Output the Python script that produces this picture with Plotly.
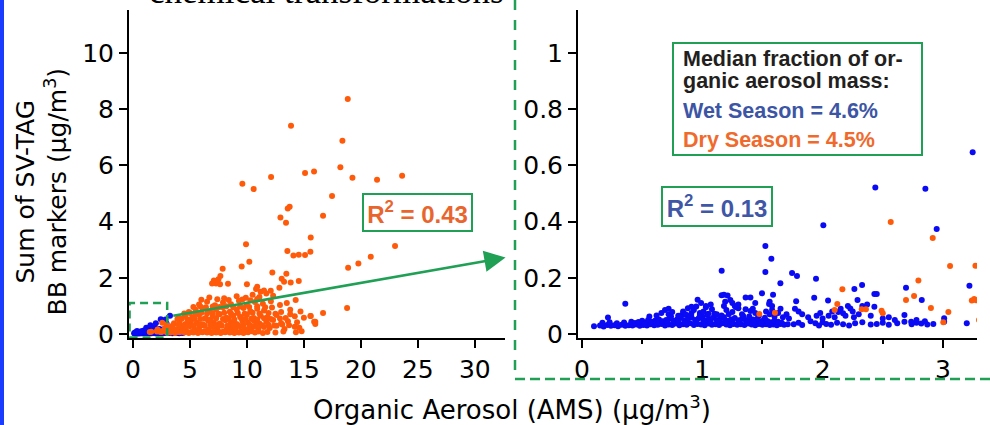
import plotly.graph_objects as go

# ---------------- data (OA in ug/m3, SV-TAG BB markers in ug/m3) ----------------
# Wet season (blue) points
wet_band_low = [(0.10,0.028),(0.15,0.030),(0.18,0.027),(0.21,0.032),(0.24,0.029),(0.27,0.031),(0.30,0.028),(0.33,0.033),
    (0.36,0.029),(0.39,0.031),(0.42,0.030),(0.45,0.034),(0.48,0.029),(0.51,0.032),(0.54,0.030),(0.57,0.035),(0.60,0.031),
    (0.63,0.033),(0.66,0.036),(0.69,0.030),(0.72,0.034),(0.75,0.032),(0.78,0.037),(0.81,0.031),(0.84,0.035),(0.87,0.033),
    (0.90,0.038),(0.93,0.032),(0.96,0.036),(0.99,0.034),(1.02,0.031),(1.05,0.037),(1.08,0.033),(1.11,0.035),(1.14,0.032),
    (1.17,0.038),(1.20,0.034),(1.23,0.031),(1.26,0.036),(1.29,0.033),(1.32,0.035),(1.35,0.032),(1.38,0.037),(1.41,0.034),
    (1.44,0.031),(1.47,0.036),(1.50,0.033),(1.53,0.035),(1.56,0.032),(1.59,0.034),(1.62,0.031),(1.65,0.036),(1.68,0.033),(1.71,0.035)]
wet_band_mid = [(0.17,0.040),(0.23,0.042),(0.29,0.038),(0.35,0.041),(0.41,0.044),(0.44,0.039),(0.47,0.043),(0.50,0.047),
    (0.53,0.041),(0.55,0.050),(0.58,0.044),(0.61,0.048),(0.64,0.052),(0.67,0.045),(0.70,0.050),(0.73,0.055),(0.76,0.047),
    (0.79,0.052),(0.82,0.058),(0.85,0.049),(0.88,0.054),(0.91,0.060),(0.94,0.050),(0.97,0.056),(1.00,0.062),(1.03,0.048),
    (1.06,0.053),(1.09,0.058),(1.12,0.050),(1.15,0.055),(1.18,0.060),(1.21,0.047),(1.24,0.052),(1.27,0.057),(1.30,0.049),
    (1.33,0.054),(1.36,0.050),(1.39,0.046),(1.42,0.052),(1.45,0.048),(1.48,0.044),(1.51,0.050),(1.54,0.046),(1.57,0.042),
    (1.60,0.048),(1.63,0.044),(1.66,0.040)]
wet_band_fill = [(0.52,0.036),(0.62,0.040),(0.71,0.042),(0.80,0.044),(0.86,0.041),(0.95,0.044),(1.01,0.046),(1.07,0.042),
    (1.13,0.045),(1.19,0.043),(1.25,0.042),(1.31,0.044),(1.37,0.041),(1.43,0.042),(1.49,0.040),(1.55,0.041),
    (0.74,0.062),(0.83,0.068),(0.90,0.066),(0.98,0.075),(1.04,0.068),(1.10,0.072),(1.16,0.066),(1.22,0.070),
    (1.34,0.064),(1.39,0.062),(1.46,0.056),(1.52,0.058)]
wet_band_high = [(0.56,0.062),(0.62,0.066),(0.66,0.075),(0.69,0.085),(0.72,0.070),(0.75,0.078),(0.80,0.065),(0.84,0.080),
    (0.86,0.070),(0.88,0.092),(0.91,0.075),(0.93,0.085),(0.95,0.098),(0.98,0.068),(1.01,0.080),(1.03,0.095),(1.05,0.072),
    (1.08,0.088),(1.12,0.070),(1.18,0.100),(1.20,0.085),(1.25,0.078),(1.28,0.095),(1.30,0.092),(1.33,0.070),(1.36,0.088),
    (1.40,0.082),(1.42,0.090),(1.44,0.075),(1.47,0.065),(1.53,0.080),(1.56,0.070),(1.60,0.062)]
wet_scatter_low_oa = [(0.36,0.108),(0.216,0.059),(0.961,0.122),(1.161,0.225),(1.16,0.138),(1.18,0.140),(1.21,0.137),
    (1.233,0.121),(1.19,0.115),(1.36,0.130),(1.40,0.130),(1.44,0.110),(1.496,0.145),(1.524,0.313),(1.574,0.268),
    (1.524,0.221),(1.588,0.140),(1.56,0.115),(1.555,0.107),(1.649,0.181),(1.746,0.217),(1.787,0.206),(1.30,0.105),
    (1.25,0.110),(1.27,0.100),(1.65,0.090),(1.70,0.070),(1.72,0.055),(1.67,0.060),(1.63,0.075),(1.58,0.085),(1.58,0.100),
    (0.91,0.097),(0.99,0.110),(1.03,0.100),(1.07,0.105),(0.72,0.090)]
wet_high_oa_low = [(1.76,0.035),(1.80,0.040),(1.83,0.032),(1.90,0.045),(1.94,0.038),(1.97,0.030),(2.00,0.042),(2.03,0.036),
    (2.07,0.033),(2.12,0.040),(2.17,0.035),(2.22,0.030),(2.27,0.038),(2.33,0.042),(2.40,0.034),(2.45,0.036),(2.50,0.040),
    (2.55,0.033),(2.62,0.038),(2.68,0.044),(2.74,0.035),(2.78,0.040),(2.82,0.037),(2.87,0.034),(2.92,0.036),(3.198,0.038)]
wet_high_oa_mid = [(1.77,0.090),(1.80,0.080),(1.78,0.117),(1.83,0.070),(1.88,0.060),(1.93,0.129),(1.95,0.065),(1.98,0.075),
    (2.00,0.055),(2.045,0.119),(2.05,0.065),(2.08,0.080),(2.10,0.060),(2.13,0.078),(2.15,0.090),(2.17,0.074),(2.19,0.065),
    (2.21,0.100),(2.23,0.091),(2.25,0.080),(2.26,0.060),(2.29,0.121),(2.30,0.070),(2.33,0.100),(2.35,0.095),(2.37,0.105),
    (2.40,0.065),(2.43,0.097),(2.50,0.055),(2.55,0.060),(2.60,0.050),(2.68,0.068),(2.736,0.044),(2.78,0.050),(2.85,0.045),
    (3.01,0.056),(3.01,0.044)]
wet_high_oa_top = [(1.945,0.197),(2.006,0.387),(2.264,0.160),(2.328,0.174),(2.43,0.142),(2.45,0.142),(2.438,0.521),
    (2.693,0.165),(2.824,0.121),(2.854,0.517),(2.948,0.374),(3.22,0.172),(3.247,0.647)]
wet_beyond_zoom = [(3.35,0.05),(3.45,0.03),(3.55,0.06),(3.65,0.04),(3.75,0.07),(3.85,0.04),(3.95,0.05),(4.05,0.03),
    (4.20,0.05),(4.36,0.04),(3.40,0.10),(3.60,0.12),(3.90,0.10),(4.10,0.12)]

# Dry season (orange) points
dry_low_oa = [(1.474,0.071),(1.604,0.076),(2.10,0.085),(2.122,0.107),(2.164,0.159),(2.325,0.088),(2.36,0.088),(2.49,0.083),
    (2.50,0.074),(2.566,0.399),(2.693,0.121),(2.76,0.135),(2.796,0.190),(2.90,0.093),(2.915,0.342),(3.003,0.042),
    (3.045,0.078),(3.059,0.242),(3.24,0.119),(3.26,0.125),(3.275,0.120),(3.27,0.243)]
dry_cloud_1 = [(3.3,0.05),(3.5,0.09),(3.7,0.04),(3.9,0.08),(4.1,0.06),(4.3,0.10),(4.5,0.05),(4.7,0.09),(4.9,0.04),(5.1,0.07),
    (5.3,0.05),(5.5,0.09),(5.7,0.04),(5.9,0.08),(6.1,0.06),(6.3,0.10),(6.5,0.05),(6.7,0.09),(6.9,0.04),(7.1,0.07),
    (7.3,0.05),(7.5,0.09),(7.7,0.04),(7.9,0.08),(8.1,0.06),(8.3,0.10),(8.5,0.05),(8.7,0.09),(8.9,0.04),(9.1,0.07),
    (9.3,0.05),(9.5,0.09),(9.7,0.04),(9.9,0.08),(10.1,0.06),(10.4,0.10),(10.7,0.05),(11.0,0.09),(11.4,0.04),(11.8,0.07),
    (12.5,0.05),(13.2,0.09),(14.3,0.06),(14.8,0.10)]
dry_cloud_2 = [(3.4,0.20),(3.8,0.16),(4.2,0.26),(4.6,0.18),(5.0,0.28),(5.4,0.15),(5.8,0.22),(6.2,0.30),(6.6,0.17),(7.0,0.25),
    (7.4,0.19),(7.8,0.29),(8.2,0.16),(8.6,0.24),(9.0,0.20),(9.4,0.28),(9.8,0.17),(10.2,0.23),(10.6,0.27),(11.0,0.18),
    (11.5,0.25),(12.0,0.21),(12.6,0.29),(13.3,0.18),(14.2,0.26),(14.6,0.22)]
dry_cloud_3 = [(3.6,0.38),(4.1,0.46),(4.6,0.36),(5.1,0.48),(5.6,0.40),(6.1,0.35),(6.6,0.47),(7.1,0.41),(7.6,0.37),(8.1,0.49),
    (8.6,0.42),(9.1,0.36),(9.6,0.46),(10.1,0.40),(10.6,0.48),(11.1,0.37),(11.7,0.44),(12.3,0.50),(13.0,0.38),(13.6,0.45),
    (14.4,0.42),(15.9,0.44),(16.0,0.36)]
dry_cloud_4 = [(4.0,0.58),(4.6,0.66),(5.2,0.60),(5.8,0.69),(6.4,0.56),(7.0,0.64),(7.6,0.70),(8.2,0.58),(8.8,0.66),(9.4,0.61),
    (10.0,0.69),(10.6,0.57),(11.2,0.65),(11.8,0.60),(12.6,0.68),(13.4,0.57),(14.2,0.63),(15.0,0.58),(15.6,0.64),(13.8,0.70)]
dry_cloud_5 = [(4.9,0.78),(5.5,0.86),(6.1,0.92),(6.7,0.80),(7.3,0.88),(7.9,0.95),(8.5,0.79),(9.1,0.87),(9.7,0.93),(10.3,0.81),
    (10.9,0.90),(11.5,0.84),(12.2,0.94),(13.0,0.78),(13.8,0.86),(14.7,0.80)]
dry_cloud_6 = [(5.8,1.05),(6.5,1.15),(7.2,1.02),(7.9,1.12),(8.6,1.06),(9.3,1.18),(10.0,1.04),(10.7,1.14),(11.4,1.08),
    (12.1,1.17),(12.9,1.03),(13.5,1.10)]
dry_cloud_7 = [(6.7,1.30),(8.0,1.27),(9.1,1.34),(9.9,1.29),(10.5,1.40),(11.1,1.32),(11.7,1.44),(12.3,1.36)]
dry_cloud_fill = [(3.5,0.31),(4.0,0.33),(4.4,0.30),(4.9,0.34),(5.3,0.31),(5.8,0.33),(6.3,0.30),(6.8,0.34),(7.2,0.31),
    (7.7,0.33),(8.3,0.30),(8.8,0.34),(9.2,0.31),(9.7,0.33),(10.3,0.30),(10.8,0.34),(11.3,0.31),(11.9,0.33),(12.4,0.30),
    (13.1,0.34),(13.7,0.31),
    (3.9,0.53),(4.3,0.55),(4.8,0.52),(5.4,0.56),(5.9,0.53),(6.3,0.55),(6.8,0.52),(7.3,0.56),(7.9,0.53),(8.4,0.55),
    (8.9,0.52),(9.5,0.56),(9.9,0.53),(10.4,0.55),(10.9,0.52),(11.5,0.56),(12.1,0.53),(12.9,0.55),
    (4.5,0.73),(5.0,0.75),(5.5,0.72),(6.0,0.76),(6.5,0.73),(7.0,0.75),(7.5,0.72),(8.0,0.76),(8.6,0.73),(9.2,0.75),
    (9.8,0.72),(10.5,0.76),(11.1,0.73),(11.9,0.75),(12.5,0.72),
    (5.3,0.96),(5.9,0.99),(6.4,0.95),(7.0,0.98),(7.6,0.96),(8.2,0.99),(8.8,0.95),(9.4,0.98),(10.2,0.96),(10.9,0.99),(11.6,0.95),
    (6.0,1.22),(7.4,1.24),(8.4,1.21),(9.6,1.23),(10.3,1.20),(10.9,1.25),
    (7.1,1.90),(7.5,1.95),(10.9,1.68),(11.2,1.50)]
dry_sparse = [(12.09,1.54),(11.5,1.55),(10.8,1.60),(12.85,1.65),(10.0,1.77),(6.94,1.80),(7.29,1.80),(7.64,1.77),(8.34,1.79),
    (7.67,2.06),(7.87,2.32),(9.54,2.40),(10.21,2.57),(9.92,3.19),(12.23,2.19),(13.46,2.14),(13.05,1.97),(13.26,1.86),
    (14.55,1.89),(13.84,1.83),(14.28,1.21),(15.57,0.64),(16.0,0.44),(16.68,0.75),(18.79,0.93),(9.6,5.35),(10.59,5.16),
    (12.12,5.59),(15.1,5.73),(15.89,5.78),(13.87,7.41),(18.85,8.36),(18.38,6.88),(18.2,5.93),(19.26,5.56),(21.42,5.49),
    (23.62,5.63),(17.47,4.91),(13.58,4.47),(13.75,4.53),(12.94,4.15),(13.43,3.96),(16.68,4.21),(15.6,3.43),(23.0,3.13),
    (13.55,2.95),(15.57,2.93),(14.08,2.79),(14.55,2.82),(15.1,2.81),(20.87,2.75),(19.78,2.51),(18.88,2.36),(32.6,11.57)]

wet = (wet_band_low + wet_band_mid + wet_band_fill + wet_band_high + wet_scatter_low_oa + wet_high_oa_low
       + wet_high_oa_mid + wet_high_oa_top + wet_beyond_zoom)
dry = (dry_low_oa + dry_cloud_1 + dry_cloud_2 + dry_cloud_3 + dry_cloud_4 + dry_cloud_5 + dry_cloud_6 + dry_cloud_7
       + dry_cloud_fill + dry_sparse)
wet_x = [p[0] for p in wet]; wet_y = [p[1] for p in wet]
dry_x = [p[0] for p in dry]; dry_y = [p[1] for p in dry]

left_xticks = [0, 5, 10, 15, 20, 25, 30]
left_yticks = [0, 2, 4, 6, 8, 10]
right_xticks = [0, 1, 2, 3]
right_yticks = [0, 0.2, 0.4, 0.6, 0.8, 1]
right_yticktext = ["0", "0.2", "0.4", "0.6", "0.8", "1"]

WET_C = "#0A0AF5"
DRY_C = "#FF5A0A"
GREEN = "#1FA055"
W, H = 990, 425

fig = go.Figure()
for xa, ya, clip in (("x", "y", False), ("x2", "y2", True)):
    fig.add_trace(go.Scatter(x=wet_x, y=wet_y, mode="markers", xaxis=xa, yaxis=ya, cliponaxis=clip,
                             marker=dict(color=WET_C, size=6, line=dict(width=0)), showlegend=False))
    fig.add_trace(go.Scatter(x=dry_x, y=dry_y, mode="markers", xaxis=xa, yaxis=ya, cliponaxis=clip,
                             marker=dict(color=DRY_C, size=6, line=dict(width=0)), showlegend=False))

tickfont = dict(family="DejaVu Sans", size=25, color="black")
axis_common = dict(showline=True, linecolor="black", linewidth=2, ticks="outside", ticklen=8, tickwidth=2,
                   tickcolor="black", showgrid=False, zeroline=False, tickfont=tickfont, automargin=False)

fig.update_layout(
    width=W, height=H, margin=dict(l=0, r=0, t=0, b=0, autoexpand=False),
    paper_bgcolor="white", plot_bgcolor="rgba(0,0,0,0)", showlegend=False,
    xaxis=dict(domain=[129/W, 505/W], range=[-0.35, 32.65], tickvals=left_xticks, anchor="y", **axis_common),
    yaxis=dict(domain=[(H-338)/H, (H-10)/H], range=[-0.142, 11.53], tickvals=left_yticks, anchor="x", **axis_common),
    xaxis2=dict(domain=[578/W, 977/W], range=[-0.033, 3.283], tickvals=right_xticks, anchor="y2",
                minor=dict(ticks="outside", ticklen=4, tickwidth=2, tickcolor="black", dtick=0.5, tick0=0),
                **axis_common),
    yaxis2=dict(domain=[(H-338)/H, (H-10)/H], range=[-0.0142, 1.153], tickvals=right_yticks,
                ticktext=right_yticktext, anchor="x2", **axis_common),
)

shapes = [
    dict(type="rect", xref="paper", yref="paper", x0=0, x1=4/W, y0=0, y1=1, fillcolor="#1A3CFF", line=dict(width=0)),
    dict(type="line", xref="paper", yref="paper", x0=515/W, x1=515/W, y0=1, y1=(H-379)/H,
         line=dict(color=GREEN, width=2.5, dash="10px,10px")),
    dict(type="line", xref="paper", yref="paper", x0=515/W, x1=1, y0=(H-379)/H, y1=(H-379)/H,
         line=dict(color=GREEN, width=2.5, dash="10px,5px")),
    dict(type="rect", xref="x", yref="y", x0=-0.3, x1=3.0, y0=-0.12, y1=1.1,
         line=dict(color=GREEN, width=2.5, dash="8px,5px")),
    dict(type="rect", xref="paper", yref="paper", x0=673/W, x1=922/W, y0=(H-155)/H, y1=(H-43)/H,
         line=dict(color=GREEN, width=2), fillcolor="white"),
]
fig.update_layout(shapes=shapes)

ann = []
# arrow from zoom box to zoomed panel
ann.append(dict(x=32.7, y=2.72, ax=3.4, ay=0.64, xref="x", yref="y", axref="x", ayref="y", text="",
                showarrow=True, arrowhead=2, arrowsize=1.7, arrowwidth=2.5, arrowcolor=GREEN))
ann.append(dict(x=417.5/W, y=1-212.5/H, xref="paper", yref="paper", text="<b>R<sup>2</sup> = 0.43</b>",
                showarrow=False, font=dict(family="Liberation Sans", size=24, color="#E8662E"),
                bordercolor=GREEN, borderwidth=2, borderpad=2, bgcolor="white", width=103, height=31,
                xanchor="center", yanchor="middle"))
ann.append(dict(x=717/W, y=1-206.5/H, xref="paper", yref="paper", text="<b>R<sup>2</sup> = 0.13</b>",
                showarrow=False, font=dict(family="Liberation Sans", size=24, color="#3F57A6"),
                bordercolor=GREEN, borderwidth=2, borderpad=2, bgcolor="white", width=104, height=33,
                xanchor="center", yanchor="middle"))
legend_lines = [("Median fraction of or-", "#231F20", 59), ("ganic aerosol mass:", "#231F20", 81),
                ("Wet Season = 4.6%", "#3C55A5", 111), ("Dry Season = 4.5%", "#EF6A2C", 140)]
for txt, col, yc in legend_lines:
    ann.append(dict(x=682/W, y=1-yc/H, xref="paper", yref="paper", text="<b>%s</b>" % txt, showarrow=False,
                    font=dict(family="Liberation Sans", size=21.5, color=col), xanchor="left", yanchor="middle",
                    borderpad=0))
ann.append(dict(x=41.5/W, y=1-192/H, xref="paper", yref="paper", text="Sum of SV-TAG<br>BB markers (μg/m<sup>3</sup>)",
                textangle=-90, showarrow=False, font=dict(family="DejaVu Sans", size=25, color="black"),
                xanchor="center", yanchor="middle"))
ann.append(dict(x=512/W, y=1-408/H, xref="paper", yref="paper", text="Organic Aerosol (AMS) (μg/m<sup>3</sup>)",
                showarrow=False, font=dict(family="DejaVu Sans", size=26, color="black"),
                xanchor="center", yanchor="middle"))
ann.append(dict(x=326/W, y=1-13/H, xref="paper", yref="paper", text="chemical transformations",
                showarrow=False, font=dict(family="Liberation Serif", size=35, color="black"),
                xanchor="center", yanchor="bottom"))
fig.update_layout(annotations=ann)

fig.write_html("out.html", config={"displayModeBar": False},
               post_script="document.body.style.margin='0';document.body.style.padding='0';"
                           "document.body.style.overflow='hidden';")
